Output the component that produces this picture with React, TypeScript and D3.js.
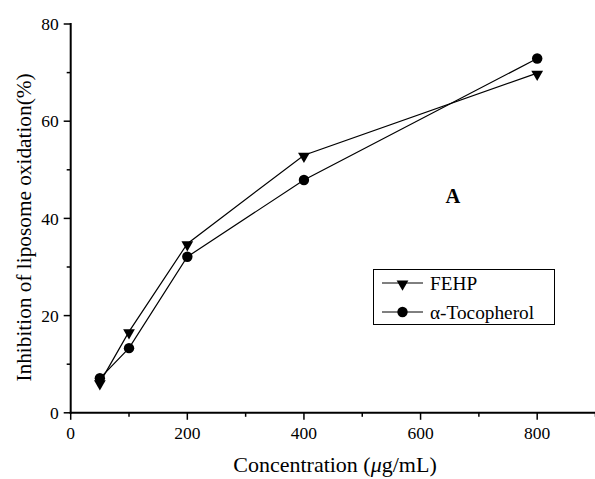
import React from "react";
import * as d3 from "d3";

const concentrations = [50, 100, 200, 400, 800];
const fehpValues = [6.2, 16.7, 34.8, 53.0, 69.9];
const tocopherolValues = [7.1, 13.3, 32.1, 47.9, 72.9];
const xTicks = [0, 200, 400, 600, 800];
const xMinorTicks = [100, 300, 500, 700, 900];
const yTicks = [0, 20, 40, 60, 80];
const yMinorTicks = [10, 30, 50, 70];

const W = 595;
const H = 479;
const FONT = "'Liberation Serif', 'Times New Roman', serif";

export default function App() {
  const x = d3.scaleLinear().domain([0, 900]).range([70.7, 595.5]);
  const y = d3.scaleLinear().domain([0, 80]).range([412.8, 24]);

  const line = d3
    .line<[number, number]>()
    .x((d) => x(d[0]))
    .y((d) => y(d[1]));

  const fehp: [number, number][] = concentrations.map((c, i) => [c, fehpValues[i]]);
  const toco: [number, number][] = concentrations.map((c, i) => [c, tocopherolValues[i]]);

  const tri = d3.symbol().type(d3.symbolTriangle).size(60)();
  const triangle = (cx: number, cy: number, key: string) => (
    <path key={key} d={tri as string} transform={`translate(${cx},${cy}) rotate(180)`} fill="#000" />
  );
  const dot = (cx: number, cy: number, key: string) => (
    <circle key={key} cx={cx} cy={cy} r={5.2} fill="#000" />
  );

  const x0 = x(0);
  const y0 = y(0);

  return (
    <div style={{ position: "fixed", left: 0, top: 0 }}>
      <svg width={W} height={H} style={{ display: "block", background: "#fff" }} fontFamily={FONT}>
        {/* axes */}
        <line x1={x0} x2={x0} y1={y(80) - 1} y2={y0 + 1} stroke="#000" strokeWidth={2} />
        <line x1={x0 - 1} x2={x(900)} y1={y0} y2={y0} stroke="#000" strokeWidth={2} />

        {yTicks.map((t) => (
          <g key={`y${t}`}>
            <line x1={x0 - 7} x2={x0} y1={y(t)} y2={y(t)} stroke="#000" strokeWidth={1.5} />
            <text x={x0 - 12} y={y(t)} dy="0.35em" textAnchor="end" fontSize={17.5}>
              {t}
            </text>
          </g>
        ))}
        {yMinorTicks.map((t) => (
          <line key={`ym${t}`} x1={x0 - 4} x2={x0} y1={y(t)} y2={y(t)} stroke="#000" strokeWidth={1.5} />
        ))}
        {xTicks.map((t) => (
          <g key={`x${t}`}>
            <line x1={x(t)} x2={x(t)} y1={y0} y2={y0 + 7} stroke="#000" strokeWidth={1.5} />
            <text x={x(t)} y={y0 + 26.5} textAnchor="middle" fontSize={17.5}>
              {t}
            </text>
          </g>
        ))}
        {xMinorTicks.map((t) => (
          <line key={`xm${t}`} x1={x(t)} x2={x(t)} y1={y0} y2={y0 + 4} stroke="#000" strokeWidth={1.5} />
        ))}

        {/* axis titles */}
        <text transform={`translate(31,227.5) rotate(-90)`} textAnchor="middle" fontSize={21.3}>
          Inhibition of liposome oxidation(%)
        </text>
        <text x={335} y={472} textAnchor="middle" fontSize={22}>
          Concentration (<tspan fontStyle="italic">μ</tspan>g/mL)
        </text>

        {/* series */}
        <path d={line(fehp) as string} fill="none" stroke="#000" strokeWidth={1.2} />
        <path d={line(toco) as string} fill="none" stroke="#000" strokeWidth={1.2} />
        {toco.map((d, i) => dot(x(d[0]), y(d[1]), `c${i}`))}
        {fehp.map((d, i) => triangle(x(d[0]), y(d[1]) + 1, `t${i}`))}

        {/* panel label */}
        <text x={453} y={203} textAnchor="middle" fontSize={20.5} fontWeight="bold">
          A
        </text>

        {/* legend */}
        <rect x={373.5} y={269.5} width={181} height={55} fill="none" stroke="#000" strokeWidth={1} />
        <line x1={382} x2={423} y1={283} y2={283} stroke="#000" strokeWidth={1} />
        {triangle(402.5, 284, "lt")}
        <text x={430} y={283} dy="0.35em" fontSize={19.3}>
          FEHP
        </text>
        <line x1={382} x2={423} y1={312} y2={312} stroke="#000" strokeWidth={1} />
        {dot(402.5, 312, "lc")}
        <text x={430} y={312} dy="0.35em" fontSize={19.3}>
          α-Tocopherol
        </text>
      </svg>
    </div>
  );
}
